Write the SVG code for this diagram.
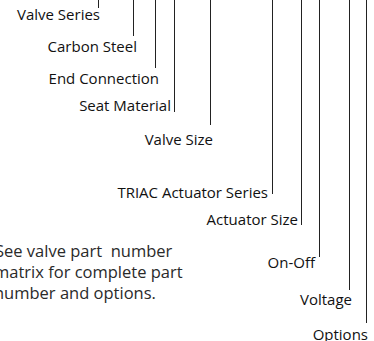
<svg xmlns="http://www.w3.org/2000/svg" width="374" height="341" viewBox="0 0 374 341">
<style>
.lbl{font-family:"Open Sans","Noto Sans","Liberation Sans",sans-serif;font-size:15px;fill:#111;text-anchor:end}
.para{font-family:"Open Sans","Noto Sans","Liberation Sans",sans-serif;font-size:16.5px;fill:#2a2a2a}
.ln{stroke:#222;stroke-width:1;fill:none}
</style>
<rect width="374" height="341" fill="#fff"/>
<g id="connectors">
<line class="ln" x1="98.5" y1="0" x2="98.5" y2="8"/>
<line class="ln" x1="133.5" y1="0" x2="133.5" y2="36"/>
<line class="ln" x1="155.5" y1="0" x2="155.5" y2="68"/>
<line class="ln" x1="174.5" y1="0" x2="174.5" y2="112"/>
<line class="ln" x1="210.5" y1="0" x2="210.5" y2="125"/>
<line class="ln" x1="272.5" y1="0" x2="272.5" y2="194"/>
<line class="ln" x1="301.5" y1="0" x2="301.5" y2="225"/>
<line class="ln" x1="319.5" y1="0" x2="319.5" y2="257"/>
<line class="ln" x1="349.5" y1="0" x2="349.5" y2="290"/>
<line class="ln" x1="366.5" y1="0" x2="366.5" y2="323"/>
</g>
<g id="n-valve-series"><text class="lbl" x="100" y="20">Valve Series</text></g>
<g id="n-carbon-steel"><text class="lbl" x="137" y="52">Carbon Steel</text></g>
<g id="n-end-connection"><text class="lbl" x="159" y="84">End Connection</text></g>
<g id="n-seat-material"><text class="lbl" x="171" y="111">Seat Material</text></g>
<g id="n-valve-size"><text class="lbl" x="213" y="145">Valve Size</text></g>
<g id="n-triac"><text class="lbl" x="268" y="198">TRIAC Actuator Series</text></g>
<g id="n-actuator-size"><text class="lbl" x="298" y="225">Actuator Size</text></g>
<g id="n-on-off"><text class="lbl" x="315" y="268">On-Off</text></g>
<g id="n-voltage"><text class="lbl" x="352" y="305">Voltage</text></g>
<g id="n-options"><text class="lbl" x="368" y="340">Options</text></g>
<g id="note">
<text class="para" x="-5" y="257" xml:space="preserve">See valve part  number</text>
<text class="para" x="-6" y="278">matrix for complete part</text>
<text class="para" x="-6" y="299">number and options.</text>
</g>
</svg>
